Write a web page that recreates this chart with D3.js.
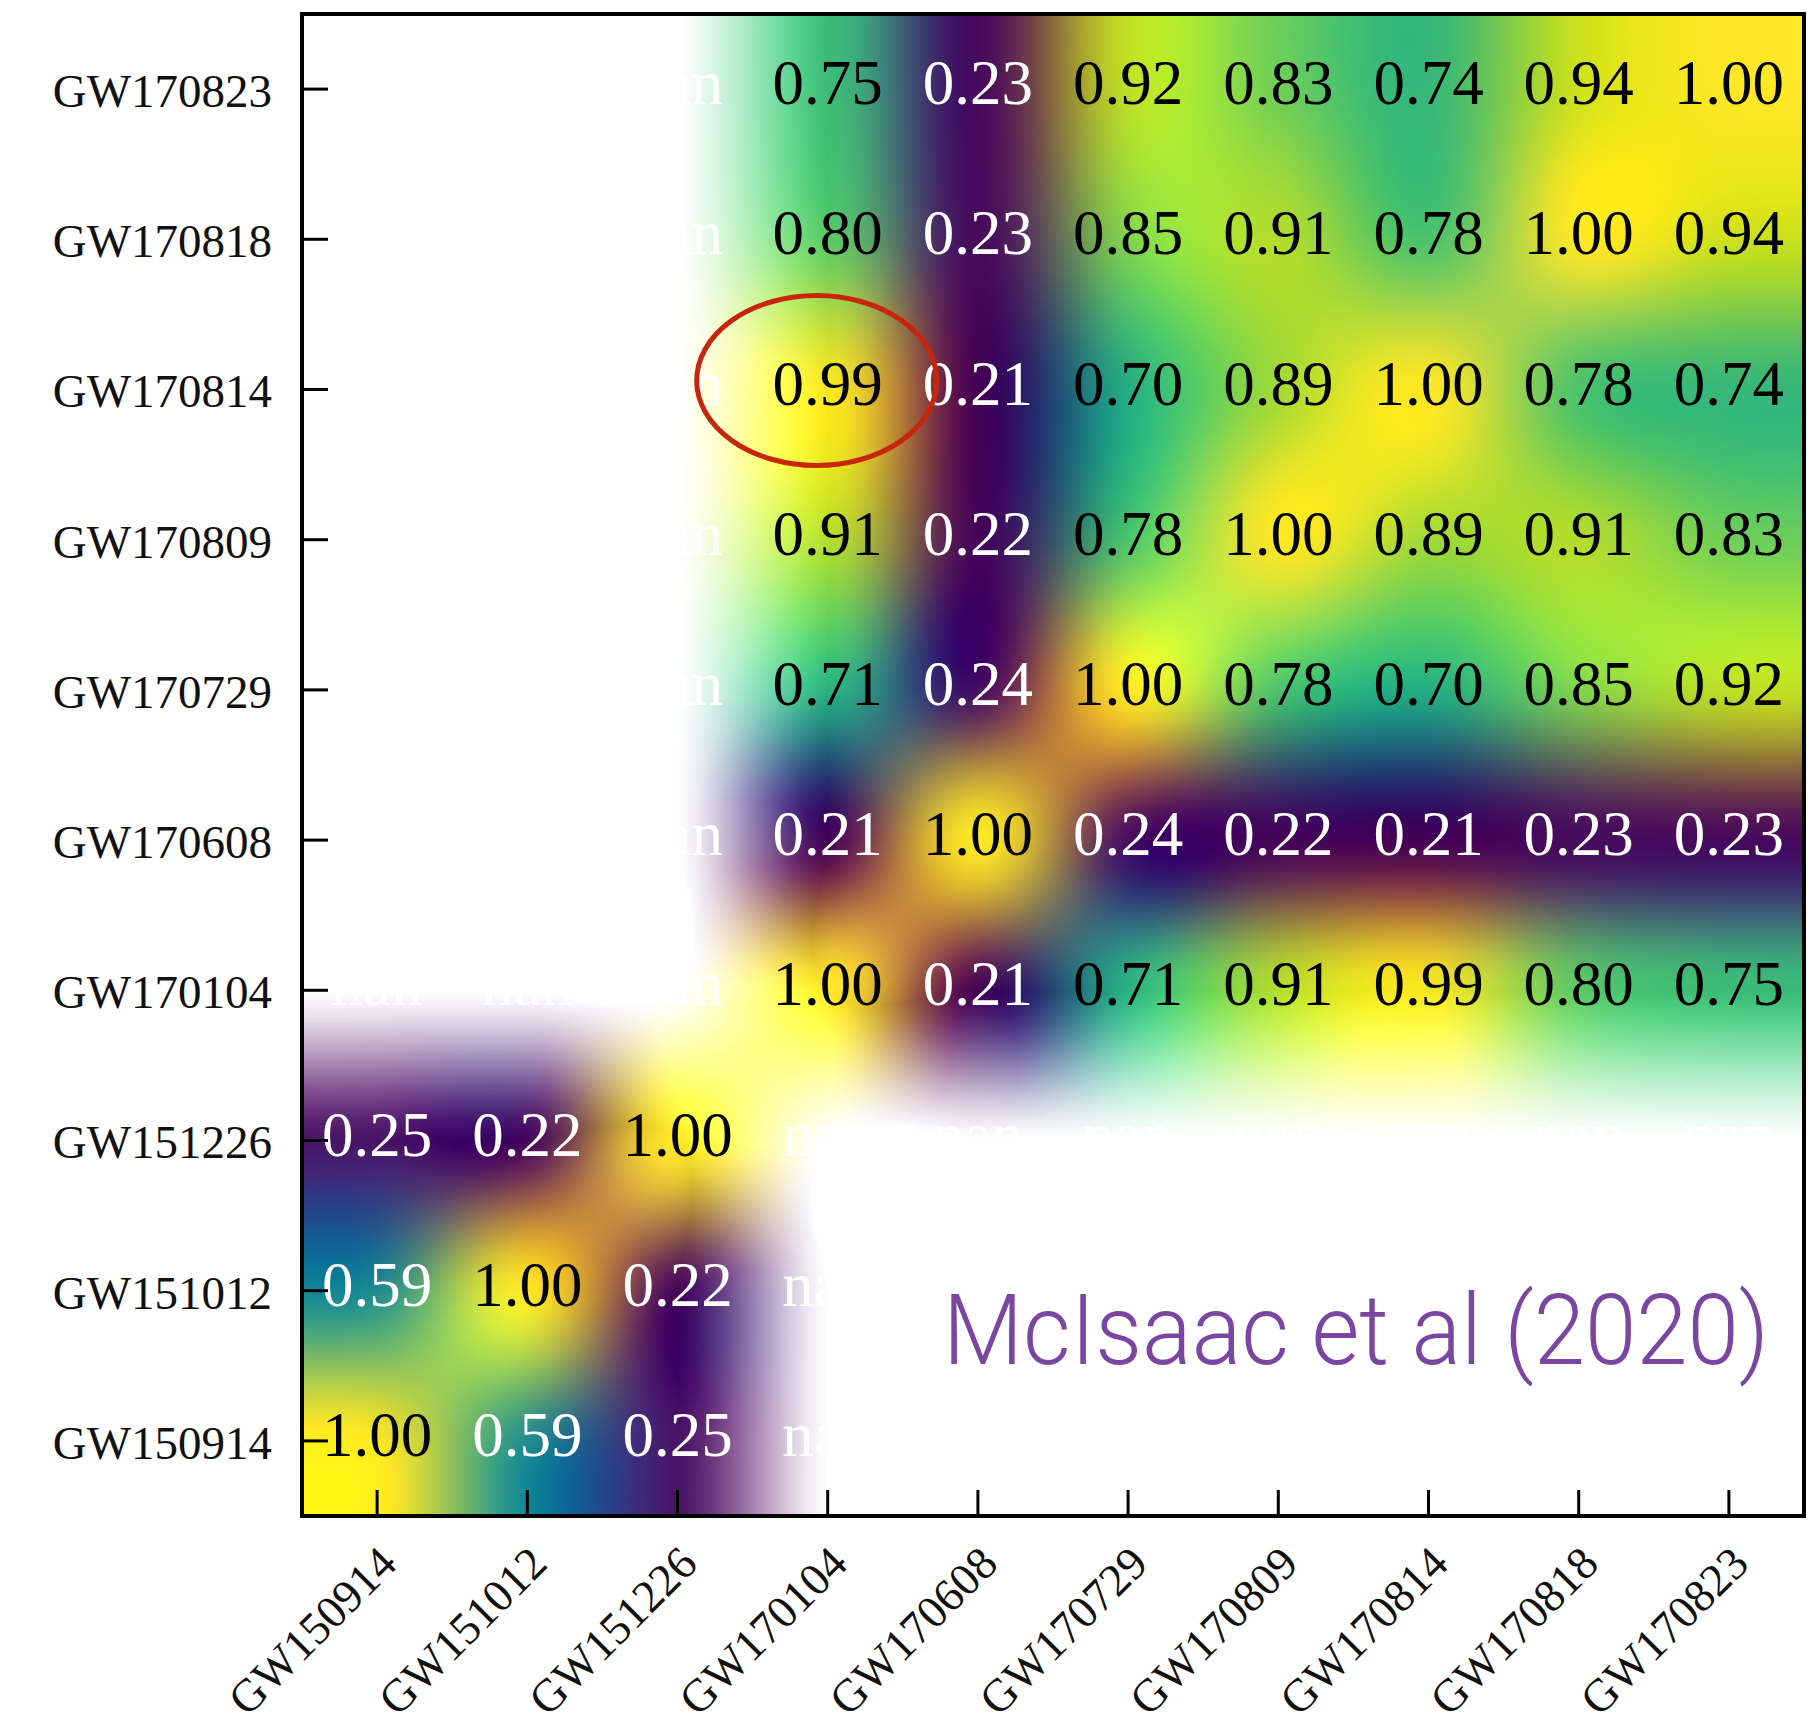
<!DOCTYPE html>
<html lang="en">
<head>
    <meta charset="utf8">
    <script type="text/javascript" src="https://d3js.org/d3.v7.min.js"></script>
    <title>GW event overlap matrix</title>
    <style>
        body { margin: 0; background: #fff; }
    </style>
</head>
<body>
    <div class="chart"></div>
</body>
<script type="text/javascript">
    // events of the two observing runs
    var o1Events = ["GW150914", "GW151012", "GW151226"];
    var o2Events = ["GW170104", "GW170608", "GW170729", "GW170809", "GW170814", "GW170818", "GW170823"];
    // overlap values inside each run (pairs across runs are nan)
    var o1Overlap = [
        [1.00, 0.59, 0.25],
        [0.59, 1.00, 0.22],
        [0.25, 0.22, 1.00]
    ];
    var o2Overlap = [
        [1.00, 0.21, 0.71, 0.91, 0.99, 0.80, 0.75],
        [0.21, 1.00, 0.24, 0.22, 0.21, 0.23, 0.23],
        [0.71, 0.24, 1.00, 0.78, 0.70, 0.85, 0.92],
        [0.91, 0.22, 0.78, 1.00, 0.89, 0.91, 0.83],
        [0.99, 0.21, 0.70, 0.89, 1.00, 0.78, 0.74],
        [0.80, 0.23, 0.85, 0.91, 0.78, 1.00, 0.94],
        [0.75, 0.23, 0.92, 0.83, 0.74, 0.94, 1.00]
    ];
    var events = o1Events.concat(o2Events);
    var n = events.length, n1 = o1Events.length;

    // value for (row event r, column event c); null when runs differ
    function overlap(r, c) {
        if (r < n1 && c < n1) return o1Overlap[r][c];
        if (r >= n1 && c >= n1) return o2Overlap[r - n1][c - n1];
        return null;
    }
    var cells = [];
    for (var r = 0; r < n; r++) {
        for (var c = 0; c < n; c++) {
            cells.push({row: events[r], col: events[c], ri: r, ci: c, v: overlap(r, c)});
        }
    }

    // svg
    var width = 1808, height = 1725;
    var plotL = 302, plotR = 1804, plotT = 14, plotB = 1516;
    var svg = d3.select("body div.chart")
        .append("svg")
        .attr("width", width)
        .attr("height", height)
        .style("background", "#fff");

    // scales
    var x = d3.scaleBand().domain(events).range([plotL, plotR]);
    var y = d3.scaleBand().domain(events).range([plotB, plotT]);
    var bw = x.bandwidth();
    var vals = cells.filter(function(d){ return d.v !== null; }).map(function(d){ return d.v; });
    var color = d3.scaleSequential(d3.interpolateViridis).domain([d3.min(vals), d3.max(vals)]);

    // premultiplied rgba grid, nan -> transparent
    var grid = [];
    for (var r = 0; r < n; r++) {
        grid.push([]);
        for (var c = 0; c < n; c++) {
            var v = overlap(r, c);
            if (v === null) { grid[r].push([0, 0, 0, 0]); }
            else {
                var rgb = d3.rgb(color(v));
                grid[r].push([rgb.r, rgb.g, rgb.b, 1]);
            }
        }
    }

    // bicubic resample of the rgba grid (like imshow interpolation='bicubic')
    function kern(d) {
        d = Math.abs(d);
        if (d <= 1) return 1.5 * d * d * d - 2.5 * d * d + 1;
        if (d < 2) return -0.5 * d * d * d + 2.5 * d * d - 4 * d + 2;
        return 0;
    }
    function taps(u) {
        var i0 = Math.floor(u), t = u - i0, idx = [], w = [];
        for (var k = -1; k <= 2; k++) {
            idx.push(Math.min(n - 1, Math.max(0, i0 + k)));
            w.push(kern(t - k));
        }
        return {idx: idx, w: w};
    }
    var colIdx = d3.scaleLinear()
        .domain([x(events[0]) + bw / 2, x(events[n - 1]) + bw / 2]).range([0, n - 1]);
    var rowIdx = d3.scaleLinear()
        .domain([y(events[0]) + bw / 2, y(events[n - 1]) + bw / 2]).range([0, n - 1]);
    var pw = Math.round(plotR - plotL), ph = Math.round(plotB - plotT);
    var canvas = document.createElement("canvas");
    canvas.width = pw; canvas.height = ph;
    var ctx = canvas.getContext("2d");
    var img = ctx.createImageData(pw, ph);
    var colTaps = [], rowTaps = [];
    for (var px = 0; px < pw; px++) colTaps.push(taps(colIdx(plotL + px + 0.5)));
    for (var py = 0; py < ph; py++) rowTaps.push(taps(rowIdx(plotT + py + 0.5)));
    for (var py = 0; py < ph; py++) {
        var rt = rowTaps[py];
        for (var px = 0; px < pw; px++) {
            var ct = colTaps[px];
            var acc = [0, 0, 0, 0];
            for (var a = 0; a < 4; a++) {
                var row = grid[rt.idx[a]], wa = rt.w[a];
                for (var b = 0; b < 4; b++) {
                    var p = row[ct.idx[b]], w = wa * ct.w[b];
                    var al = p[3] * w;
                    acc[0] += p[0] * al; acc[1] += p[1] * al; acc[2] += p[2] * al; acc[3] += al;
                }
            }
            var A = Math.min(1, Math.max(0, acc[3]));
            var o = (py * pw + px) * 4;
            for (var ch = 0; ch < 3; ch++) {
                var cv = Math.min(255 * A, Math.max(0, acc[ch])) + (1 - A) * 255;
                img.data[o + ch] = Math.round(Math.min(255, cv));
            }
            img.data[o + 3] = 255;
        }
    }
    ctx.putImageData(img, 0, 0);
    svg.append("image")
        .attr("x", plotL).attr("y", plotT)
        .attr("width", pw).attr("height", ph)
        .attr("preserveAspectRatio", "none")
        .attr("href", canvas.toDataURL());

    // pasted white box over the lower right nan block
    var boxX = x("GW170104") + bw / 2, boxY = y("GW151226") + bw / 2 - 4;
    var boxR = plotR - 2, boxB = plotB - 27;
    svg.append("rect")
        .attr("x", boxX).attr("y", boxY)
        .attr("width", boxR - boxX).attr("height", boxB - boxY)
        .attr("fill", "#fff");
    // labels are clipped by the box (outer plot minus the box)
    svg.append("clipPath").attr("id", "outsideBox")
        .append("path")
        .attr("clip-rule", "evenodd")
        .attr("d", "M0,0H" + width + "V" + height + "H0Z" +
                   "M" + boxX + "," + boxY + "H" + boxR + "V" + boxB + "H" + boxX + "Z");

    // cell labels (those fully under the box are not shown)
    var fmt = d3.format(".2f");
    var shown = cells.filter(function(d){
        return !(x(d.col) >= boxX && y(d.row) + bw / 2 - 30 > boxY);
    });
    svg.append("g").attr("class", "labels")
        .attr("clip-path", "url(#outsideBox)")
        .attr("font-family", "'Liberation Serif', 'Times New Roman', serif")
        .attr("font-size", 63)
        .attr("text-anchor", "middle")
        .selectAll("text")
        .data(shown)
        .enter()
        .append("text")
        .attr("x", function(d){ return x(d.col) + bw / 2; })
        .attr("y", function(d){ return y(d.row) + bw / 2 + 15; })
        .attr("fill", function(d){ return (d.v === null || d.v < 0.6) ? "#fff" : "#000"; })
        .text(function(d){ return d.v === null ? "nan" : fmt(d.v); });

    // axes, ticks pointing inside
    var yAxis = svg.append("g")
        .attr("transform", "translate(" + plotL + ",0)")
        .call(d3.axisLeft(y).tickSize(-26).tickPadding(30));
    var xAxis = svg.append("g")
        .attr("transform", "translate(0," + plotB + ")")
        .call(d3.axisBottom(x).tickSize(-26));
    [yAxis, xAxis].forEach(function(g){
        g.select(".domain").remove();
        g.attr("font-family", "'Liberation Serif', 'Times New Roman', serif").attr("font-size", 47);
        g.selectAll(".tick line").attr("stroke", "#000").attr("stroke-width", 3);
        g.selectAll(".tick text").attr("fill", "#111");
    });
    yAxis.selectAll(".tick text").attr("dy", "0.38em");
    xAxis.selectAll(".tick text")
        .attr("font-size", 46)
        .attr("text-anchor", "end")
        .attr("x", 22).attr("y", 50).attr("dy", null)
        .attr("transform", "rotate(-45,22,50)");

    svg.append("text")
        .attr("x", 943).attr("y", 1364)
        .attr("font-family", "Roboto, 'Liberation Sans', sans-serif")
        .attr("font-weight", 300)
        .attr("font-size", 98)
        .attr("fill", "#7b46a1")
        .attr("textLength", 826)
        .attr("lengthAdjust", "spacingAndGlyphs")
        .text("McIsaac et al (2020)");

    // frame
    svg.append("rect")
        .attr("x", plotL).attr("y", plotT)
        .attr("width", plotR - plotL).attr("height", plotB - plotT)
        .attr("fill", "none").attr("stroke", "#000").attr("stroke-width", 4);

    // highlight GW170104 / GW170814
    svg.append("ellipse")
        .attr("cx", x("GW170104") + bw / 2 - 11)
        .attr("cy", y("GW170814") + bw / 2 - 9)
        .attr("rx", 120).attr("ry", 85)
        .attr("fill", "none").attr("stroke", "#c8260c").attr("stroke-width", 5);
</script>
</html>
